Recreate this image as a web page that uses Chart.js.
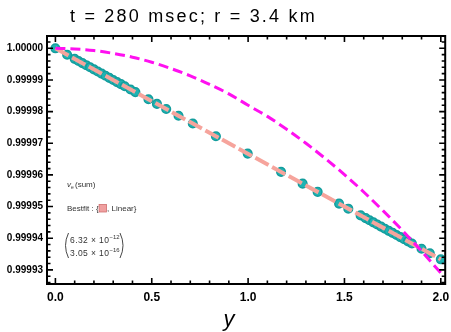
<!DOCTYPE html>
<html><head><meta charset="utf-8">
<script src="https://cdn.jsdelivr.net/npm/chart.js@4"></script>
<style>html,body{margin:0;padding:0;background:#fff}#wrap{width:451px;height:332px}</style>
</head><body><div id="wrap"><canvas id="c" width="451" height="332"></canvas></div>
<script>
const chartTitle = "t = 280 msec; r = 3.4 km";
const xAxisLabel = "y";
const xTicks = [0, 0.5, 1.0, 1.5, 2.0];
const yTicks = [0.99993, 0.99994, 0.99995, 0.99996, 0.99997, 0.99998, 0.99999, 1.00000];

// v_e (sum) data points
const dataX = [0, 0.061, 0.1, 0.12, 0.14, 0.16, 0.18, 0.2, 0.22, 0.24, 0.26, 0.28, 0.30, 0.32, 0.34, 0.36,
  0.39, 0.415, 0.483, 0.527, 0.575, 0.639, 0.713, 0.833, 0.998, 1.171, 1.283, 1.361, 1.472, 1.52, 1.584,
  1.61, 1.63, 1.65, 1.67, 1.69, 1.71, 1.73, 1.75, 1.77, 1.79, 1.81, 1.83, 1.85, 1.9, 1.943, 2.0];
const dataY = [1.0, 0.99999797, 0.99999667, 0.999996, 0.99999533, 0.99999467, 0.999994, 0.99999333,
  0.99999267, 0.999992, 0.99999133, 0.99999067, 0.99999, 0.99998933, 0.99998867, 0.999988,
  0.999987, 0.99998617, 0.9999839, 0.99998243, 0.99998083, 0.9999787, 0.99997623, 0.99997223,
  0.99996673, 0.99996097, 0.99995723, 0.99995463, 0.99995093, 0.99994933, 0.9999472,
  0.99994633, 0.99994567, 0.999945, 0.99994433, 0.99994367, 0.999943, 0.99994233, 0.99994167,
  0.999941, 0.99994033, 0.99993967, 0.999939, 0.99993833, 0.99993667, 0.99993523, 0.99993333];

// Best fit (linear)
const fitX = [0, 2.0];
const fitY = [1.0, 0.99993333];

// magenta reference curve
const curveX = [0, 0.1, 0.2, 0.3, 0.4, 0.5, 0.6, 0.7, 0.8, 0.9, 1.0, 1.1, 1.2, 1.3, 1.4, 1.5, 1.6, 1.7, 1.8, 1.9, 2.0];
const curveY = [1.0, 0.9999998, 0.9999993, 0.9999984, 0.9999972, 0.9999956, 0.9999936, 0.9999913,
  0.9999886, 0.9999856, 0.9999820, 0.9999785, 0.9999744, 0.99997, 0.9999652, 0.9999601,
  0.9999546, 0.9999487, 0.9999425, 0.9999359, 0.999929];

const pts = (xs, ys) => xs.map((v, i) => ({x: v, y: ys[i]}));

const framePlugin = {
  id: 'frame',
  afterDraw(chart) {
    const {ctx, chartArea: a, scales: {x, y}} = chart;
    ctx.save();
    ctx.strokeStyle = '#000';
    ctx.lineWidth = 2;
    ctx.strokeRect(a.left, a.top, a.right - a.left, a.bottom - a.top);
    ctx.lineWidth = 1.6;
    ctx.beginPath();
    const xs = (v, len) => { const p = x.getPixelForValue(v);
      ctx.moveTo(p, a.bottom); ctx.lineTo(p, a.bottom - len);
      ctx.moveTo(p, a.top); ctx.lineTo(p, a.top + len); };
    const ys = (v, len) => { const p = y.getPixelForValue(v);
      ctx.moveTo(a.left, p); ctx.lineTo(a.left + len, p);
      ctx.moveTo(a.right, p); ctx.lineTo(a.right - len, p); };
    for (let i = 0; i <= 20; i++) { const v = i / 10; xs(v, i % 5 === 0 ? 6 : 3.5); }
    for (let i = -37; i <= 1; i++) { const v = 1 + i * 2e-6; if (v >= y.min && v <= y.max) ys(v, i % 5 === 0 ? 6 : 3.5); }
    ctx.stroke();
    // x tick labels
    ctx.fillStyle = '#000';
    ctx.font = 'bold 12px "Liberation Sans"';
    ctx.textAlign = 'center';
    ctx.textBaseline = 'alphabetic';
    xTicks.forEach(v => ctx.fillText(v.toFixed(1), x.getPixelForValue(v), 301));
    ctx.restore();
  }
};

const textPlugin = {
  id: 'texts',
  afterDraw(chart) {
    const ctx = chart.ctx;
    ctx.save();
    ctx.fillStyle = '#000';
    ctx.textBaseline = 'alphabetic';
    ctx.font = '18px "Liberation Sans"';
    ctx.letterSpacing = '2.2px';
    ctx.textAlign = 'left';
    ctx.fillText(chartTitle, 70, 22);
    ctx.letterSpacing = '0px';
    ctx.font = 'italic 22px "Liberation Sans"';
    ctx.textAlign = 'center';
    ctx.fillText(xAxisLabel, 229, 326);

    // legend
    ctx.textAlign = 'left';
    ctx.fillStyle = '#333';
    ctx.font = 'italic 8px "Liberation Sans"';
    ctx.fillText('v', 67, 187);
    ctx.font = '5px "Liberation Sans"';
    ctx.fillText('e', 71, 189);
    ctx.font = '8px "Liberation Sans"';
    ctx.fillText('(sum)', 75, 187);

    let cx = 67;
    const part1 = 'Bestfit : {';
    ctx.fillText(part1, cx, 211);
    cx += ctx.measureText(part1).width + 0.5;
    ctx.fillStyle = '#f0a0a0';
    ctx.fillRect(cx, 204.5, 7.5, 7.5);
    ctx.strokeStyle = '#d07070';
    ctx.lineWidth = 0.8;
    ctx.strokeRect(cx, 204.5, 7.5, 7.5);
    ctx.fillStyle = '#333';
    ctx.fillText(', Linear}', cx + 8, 211);

    // matrix
    ctx.strokeStyle = '#333';
    ctx.lineWidth = 0.9;
    ctx.beginPath();
    ctx.moveTo(68.5, 233); ctx.quadraticCurveTo(62.5, 245.5, 68.5, 258);
    ctx.moveTo(120, 233); ctx.quadraticCurveTo(126, 245.5, 120, 258);
    ctx.stroke();
    ctx.font = '8.5px "Liberation Sans"';
    ctx.letterSpacing = '0.4px';
    ctx.fillText('6.32 \u00d7 10', 70, 243);
    ctx.fillText('3.05 \u00d7 10', 70, 256);
    ctx.letterSpacing = '0px';
    ctx.font = '6px "Liberation Sans"';
    ctx.fillText('\u221212', 109.5, 239);
    ctx.fillText('\u221216', 109.5, 252);
    ctx.restore();
  }
};

new Chart(document.getElementById('c'), {
  data: {
    datasets: [
      { type: 'line', data: pts(curveX, curveY), borderColor: '#ff10f0', borderWidth: 3,
        borderDash: [10, 5], pointRadius: 0, fill: false, cubicInterpolationMode: 'monotone' },
      { type: 'line', data: pts(fitX, fitY), borderColor: '#f6a49c', borderWidth: 4,
        borderDash: [15, 4], pointRadius: 0, fill: false },
      { type: 'scatter', data: pts(dataX, dataY), backgroundColor: '#1fb3b3', borderColor: '#139d9d',
        borderWidth: 1.5, pointRadius: 4.3 }
    ]
  },
  options: {
    responsive: false, animation: false, devicePixelRatio: 1,
    layout: { padding: { top: 36, right: 4, left: 0, bottom: 0 } },
    plugins: { legend: { display: false }, tooltip: { enabled: false }, title: { display: false } },
    scales: {
      x: { type: 'linear', position: 'bottom', min: -0.0436, max: 2.0228,
        afterFit: s => { s.height = 48; s.paddingLeft = 0; s.paddingRight = 0; },
        afterBuildTicks: s => { s.ticks = xTicks.map(v => ({value: v})); },
        grid: { display: false, drawTicks: false }, border: { display: false },
        ticks: { display: false } },
      y: { type: 'linear', min: 0.99992553, max: 1.00000389,
        afterFit: s => { s.width = 47; s.paddingTop = 0; s.paddingBottom = 0; },
        afterBuildTicks: s => { s.ticks = yTicks.map(v => ({value: v})); },
        grid: { display: false, drawTicks: false }, border: { display: false },
        ticks: { autoSkip: false, padding: 4, color: '#000',
          font: { family: '"Liberation Sans"', size: 10, weight: 'bold' },
          callback: v => Number(v).toFixed(5) } }
    }
  },
  plugins: [framePlugin, textPlugin]
});
</script></body></html>
